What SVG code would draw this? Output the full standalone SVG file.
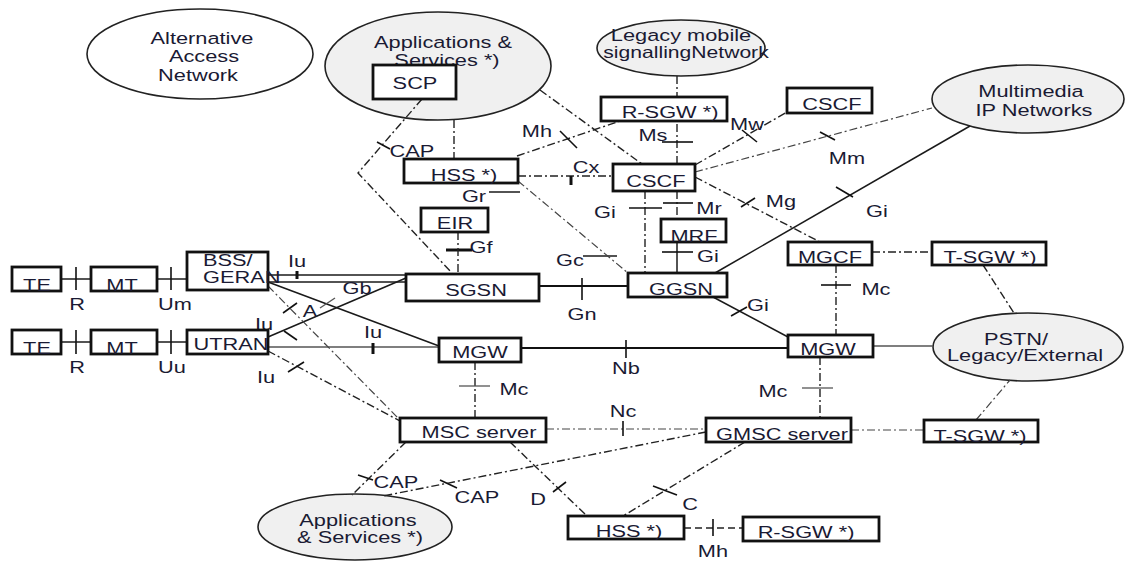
<svg xmlns="http://www.w3.org/2000/svg" width="1125" height="561" viewBox="0 0 1125 561">
<style>
.bg{fill:#fff}
.box{fill:#fff;stroke:#111;stroke-width:2.8}
.ell{fill:#f0f0f0;stroke:#222;stroke-width:1.6}
.ellw{fill:#fff;stroke:#222;stroke-width:1.6}
.s{stroke:#1a1a1a;stroke-width:1.5;fill:none}
.s2{stroke:#111;stroke-width:2.2;fill:none}
.g{stroke:#555;stroke-width:1.3;fill:none}
.dd{stroke:#222;stroke-width:1.4;fill:none;stroke-dasharray:8 3 2 3}
.ddl{stroke:#444;stroke-width:1.2;fill:none;stroke-dasharray:8 3 2 3}
.dh{stroke:#222;stroke-width:1.6;fill:none;stroke-dasharray:7 4}
.tk{stroke:#111;stroke-width:1.6}
.tkg{stroke:#555;stroke-width:1.3}
.tkb{stroke:#111;stroke-width:3}
text{font-family:"Liberation Sans",Arial,sans-serif;font-size:16.5px;fill:#1a1a33;text-anchor:middle}
.st{text-anchor:start}
</style>
<rect class="bg" x="0" y="0" width="1125" height="561"/>

<g id="node-alt-access">
<ellipse class="ellw" cx="200" cy="54" rx="113" ry="45"/>
<text transform="translate(202,44) scale(1.32,1)">Alternative</text>
<text transform="translate(204,62) scale(1.32,1)">Access</text>
<text transform="translate(198,81) scale(1.32,1)">Network</text>
</g>
<g id="node-apps-top">
<ellipse class="ell" cx="438" cy="66" rx="113" ry="54"/>
<text transform="translate(443,48) scale(1.32,1)">Applications &amp;</text>
<text transform="translate(447,66) scale(1.32,1)">Services *)</text>
</g>
<g id="node-legacy">
<ellipse class="ell" cx="681" cy="48" rx="84" ry="28"/>
<text transform="translate(681,41) scale(1.32,1)">Legacy mobile</text>
<text transform="translate(686,58) scale(1.28,1)">signallingNetwork</text>
</g>
<g id="node-multimedia">
<ellipse class="ell" cx="1028" cy="99" rx="96" ry="34"/>
<text transform="translate(1031,97) scale(1.32,1)">Multimedia</text>
<text transform="translate(1034,116) scale(1.32,1)">IP Networks</text>
</g>
<g id="node-pstn">
<ellipse class="ell" cx="1028" cy="347" rx="95" ry="34"/>
<text transform="translate(1016,345) scale(1.32,1)">PSTN/</text>
<text transform="translate(1025,361) scale(1.32,1)">Legacy/External</text>
</g>
<g id="node-apps-bottom">
<ellipse class="ell" cx="355" cy="527" rx="97" ry="33"/>
<text transform="translate(358,526) scale(1.32,1)">Applications</text>
<text transform="translate(360,543) scale(1.32,1)">&amp; Services *)</text>
</g>

<g id="connectors">
<line class="s" x1="61" y1="279" x2="91" y2="279"/><line class="tk" x1="76" y1="267" x2="76" y2="290"/>
<line class="s" x1="157" y1="279" x2="187" y2="279"/><line class="tk" x1="171" y1="267" x2="171" y2="290"/>
<line class="s" x1="61" y1="342" x2="91" y2="342"/><line class="tk" x1="76" y1="330" x2="76" y2="354"/>
<line class="s" x1="157" y1="342" x2="187" y2="342"/><line class="tk" x1="171" y1="330" x2="171" y2="354"/>
<line class="s" x1="268" y1="275" x2="406" y2="275"/>
<line class="s" x1="268" y1="282" x2="406" y2="282"/>
<line class="tkb" x1="297" y1="271" x2="297" y2="279"/>
<line class="s" x1="268" y1="282" x2="439" y2="346"/>
<line class="s" x1="268" y1="337" x2="406" y2="278"/>
<line class="tk" x1="284" y1="331" x2="297" y2="340"/>
<line class="tkg" x1="320" y1="308" x2="335" y2="298"/>
<line class="g" x1="268" y1="347" x2="439" y2="347"/>
<line class="tkb" x1="373" y1="343" x2="373" y2="354"/>
<line class="s2" x1="521" y1="348" x2="788" y2="348"/>
<line class="tk" x1="626" y1="340" x2="626" y2="358"/>
<line class="s2" x1="539" y1="286" x2="628" y2="286"/>
<line class="tk" x1="582" y1="278" x2="582" y2="300"/>
<line class="s" x1="677" y1="242" x2="677" y2="273"/>
<line class="tk" x1="662" y1="252" x2="693" y2="252"/>
<line class="s" x1="715" y1="273" x2="970" y2="126"/>
<line class="tk" x1="836" y1="187" x2="853" y2="197"/>
<line class="s" x1="713" y1="297" x2="788" y2="337"/>
<line class="tk" x1="731" y1="316" x2="747" y2="307"/>
<line class="g" x1="873" y1="346" x2="933" y2="346"/>
<line class="s" x1="489" y1="192" x2="520" y2="192"/>
<line class="s" x1="583" y1="256" x2="617" y2="256"/>
<line class="tkb" x1="446" y1="250" x2="472" y2="250"/>
<polyline class="dd" points="422,99 358,173 452,273"/>
<line class="tk" x1="377" y1="142" x2="390" y2="149"/>
<line class="dd" x1="540" y1="90" x2="642" y2="164"/>
<line class="dd" x1="454" y1="120" x2="454" y2="159"/>
<line class="dd" x1="517" y1="156" x2="620" y2="121"/>
<line class="tk" x1="560" y1="131" x2="577" y2="148"/>
<line class="dd" x1="518" y1="176" x2="613" y2="176"/>
<line class="tkb" x1="571" y1="176" x2="571" y2="185"/>
<line class="ddl" x1="518" y1="181" x2="628" y2="273"/>
<line class="dd" x1="458" y1="232" x2="458" y2="274"/>
<line class="dd" x1="677" y1="76" x2="677" y2="164"/>
<line class="tk" x1="662" y1="142" x2="693" y2="142"/>
<line class="dd" x1="677" y1="191" x2="677" y2="219"/>
<line class="tk" x1="663" y1="203" x2="693" y2="203"/>
<line class="dd" x1="645" y1="191" x2="645" y2="273"/>
<line class="tk" x1="629" y1="208" x2="662" y2="208"/>
<line class="dd" x1="695" y1="165" x2="787" y2="112"/>
<line class="tk" x1="742" y1="130" x2="757" y2="142"/>
<line class="ddl" x1="695" y1="172" x2="932" y2="108"/>
<line class="tk" x1="820" y1="132" x2="835" y2="140"/>
<line class="dd" x1="695" y1="177" x2="820" y2="242"/>
<line class="tk" x1="741" y1="207" x2="755" y2="198"/>
<line class="dd" x1="872" y1="252" x2="932" y2="252"/>
<line class="dd" x1="983" y1="265" x2="1014" y2="313"/>
<line class="dd" x1="836" y1="265" x2="836" y2="335"/>
<line class="tk" x1="821" y1="285" x2="851" y2="285"/>
<line class="dd" x1="820" y1="357" x2="820" y2="418"/>
<line class="tkg" x1="802" y1="388" x2="833" y2="388"/>
<line class="dd" x1="475" y1="362" x2="475" y2="418"/>
<line class="tkg" x1="459" y1="386" x2="490" y2="386"/>
<line class="ddl" x1="268" y1="286" x2="400" y2="420"/>
<line class="tk" x1="283" y1="313" x2="297" y2="303"/>
<line class="dd" x1="268" y1="351" x2="400" y2="421"/>
<line class="tk" x1="288" y1="372" x2="304" y2="362"/>
<line class="ddl" x1="546" y1="429" x2="706" y2="429"/>
<line class="tk" x1="623" y1="421" x2="623" y2="436"/>
<line class="ddl" x1="851" y1="430" x2="924" y2="430"/>
<line class="ddl" x1="976" y1="420" x2="1010" y2="380"/>
<line class="dd" x1="706" y1="432" x2="383" y2="496"/>
<line class="tk" x1="440" y1="480" x2="457" y2="488"/>
<line class="dd" x1="406" y1="442" x2="352" y2="495"/>
<line class="tk" x1="358" y1="475" x2="373" y2="480"/>
<line class="dd" x1="510" y1="442" x2="587" y2="516"/>
<line class="tk" x1="553" y1="492" x2="566" y2="482"/>
<line class="dd" x1="745" y1="442" x2="623" y2="516"/>
<line class="tk" x1="653" y1="486" x2="677" y2="495"/>
<line class="dh" x1="684" y1="528" x2="743" y2="528"/>
<line class="tk" x1="713" y1="519" x2="713" y2="536"/>
<text transform="translate(77,310) scale(1.32,1)">R</text>
<text transform="translate(175,310) scale(1.32,1)">Um</text>
<text transform="translate(77,373) scale(1.32,1)">R</text>
<text transform="translate(172,373) scale(1.32,1)">Uu</text>
<text transform="translate(297,267) scale(1.32,1)">Iu</text>
<text transform="translate(357,294) scale(1.32,1)">Gb</text>
<text transform="translate(310,317) scale(1.32,1)">A</text>
<text transform="translate(264,330) scale(1.32,1)">Iu</text>
<text transform="translate(373,338) scale(1.32,1)">Iu</text>
<text transform="translate(266,383) scale(1.32,1)">Iu</text>
<text transform="translate(412,157) scale(1.32,1)">CAP</text>
<text transform="translate(537,137) scale(1.32,1)">Mh</text>
<text transform="translate(586,173) scale(1.32,1)">Cx</text>
<text transform="translate(653,141) scale(1.32,1)">Ms</text>
<text transform="translate(747,130) scale(1.32,1)">Mw</text>
<text transform="translate(847,164) scale(1.32,1)">Mm</text>
<text transform="translate(474,202) scale(1.32,1)">Gr</text>
<text transform="translate(605,218) scale(1.32,1)">Gi</text>
<text transform="translate(709,214) scale(1.32,1)">Mr</text>
<text transform="translate(781,207) scale(1.32,1)">Mg</text>
<text transform="translate(877,217) scale(1.32,1)">Gi</text>
<text transform="translate(481,253) scale(1.32,1)">Gf</text>
<text transform="translate(708,262) scale(1.32,1)">Gi</text>
<text transform="translate(570,266) scale(1.32,1)">Gc</text>
<text transform="translate(582,320) scale(1.32,1)">Gn</text>
<text transform="translate(758,311) scale(1.32,1)">Gi</text>
<text transform="translate(876,295) scale(1.32,1)">Mc</text>
<text transform="translate(626,374) scale(1.32,1)">Nb</text>
<text transform="translate(514,395) scale(1.32,1)">Mc</text>
<text transform="translate(773,397) scale(1.32,1)">Mc</text>
<text transform="translate(623,417) scale(1.32,1)">Nc</text>
<text transform="translate(396,488) scale(1.32,1)">CAP</text>
<text transform="translate(477,503) scale(1.32,1)">CAP</text>
<text transform="translate(538,505) scale(1.32,1)">D</text>
<text transform="translate(690,510) scale(1.32,1)">C</text>
<text transform="translate(713,557) scale(1.32,1)">Mh</text>
</g>

<g id="node-scp"><rect class="box" x="373" y="65" width="83" height="34"/><text transform="translate(415,89) scale(1.32,1)">SCP</text></g>
<g id="node-rsgw-top"><rect class="box" x="601" y="97" width="126" height="24"/><text transform="translate(670,118) scale(1.32,1)">R-SGW *)</text></g>
<g id="node-cscf-top"><rect class="box" x="787" y="88" width="85" height="25"/><text transform="translate(832,110) scale(1.32,1)">CSCF</text></g>
<g id="node-hss-top"><rect class="box" x="404" y="159" width="114" height="24"/><text transform="translate(464,181) scale(1.32,1)">HSS *)</text></g>
<g id="node-cscf"><rect class="box" x="613" y="164" width="82" height="27"/><text transform="translate(656,187) scale(1.32,1)">CSCF</text></g>
<g id="node-eir"><rect class="box" x="421" y="208" width="67" height="24"/><text transform="translate(455,229) scale(1.32,1)">EIR</text></g>
<g id="node-mrf"><rect class="box" x="661" y="219" width="65" height="23"/><text transform="translate(694,242) scale(1.32,1)">MRF</text></g>
<g id="node-mgcf"><rect class="box" x="788" y="242" width="84" height="23"/><text transform="translate(830,263) scale(1.32,1)">MGCF</text></g>
<g id="node-tsgw-top"><rect class="box" x="932" y="242" width="114" height="23"/><text transform="translate(990,263) scale(1.32,1)">T-SGW *)</text></g>
<g id="node-te1"><rect class="box" x="12" y="267" width="49" height="24"/><text transform="translate(37,291) scale(1.32,1)">TE</text></g>
<g id="node-mt1"><rect class="box" x="91" y="267" width="66" height="24"/><text transform="translate(122,291) scale(1.32,1)">MT</text></g>
<g id="node-bss"><rect class="box" x="187" y="252" width="81" height="38"/><text class="st" transform="translate(203,266) scale(1.32,1)">BSS/</text><text class="st" transform="translate(203,283) scale(1.32,1)">GERAN</text></g>
<g id="node-sgsn"><rect class="box" x="406" y="274" width="133" height="27"/><text transform="translate(476,296) scale(1.32,1)">SGSN</text></g>
<g id="node-ggsn"><rect class="box" x="628" y="273" width="99" height="24"/><text transform="translate(681,295) scale(1.32,1)">GGSN</text></g>
<g id="node-te2"><rect class="box" x="12" y="330" width="49" height="24"/><text transform="translate(37,354) scale(1.32,1)">TE</text></g>
<g id="node-mt2"><rect class="box" x="91" y="330" width="66" height="24"/><text transform="translate(122,354) scale(1.32,1)">MT</text></g>
<g id="node-utran"><rect class="box" x="187" y="330" width="81" height="24"/><text transform="translate(231,350) scale(1.32,1)">UTRAN</text></g>
<g id="node-mgw-left"><rect class="box" x="439" y="338" width="82" height="24"/><text transform="translate(480,358) scale(1.32,1)">MGW</text></g>
<g id="node-mgw-right"><rect class="box" x="788" y="335" width="85" height="22"/><text transform="translate(828,355) scale(1.32,1)">MGW</text></g>
<g id="node-msc"><rect class="box" x="400" y="418" width="146" height="24"/><text transform="translate(479,438) scale(1.32,1)">MSC server</text></g>
<g id="node-gmsc"><rect class="box" x="706" y="418" width="145" height="24"/><text transform="translate(782,440) scale(1.32,1)">GMSC server</text></g>
<g id="node-tsgw-bottom"><rect class="box" x="924" y="420" width="114" height="22"/><text transform="translate(980,442) scale(1.32,1)">T-SGW *)</text></g>
<g id="node-hss-bottom"><rect class="box" x="568" y="516" width="116" height="23"/><text transform="translate(629,537) scale(1.32,1)">HSS *)</text></g>
<g id="node-rsgw-bottom"><rect class="box" x="743" y="517" width="136" height="24"/><text transform="translate(806,538) scale(1.32,1)">R-SGW *)</text></g>
</svg>
